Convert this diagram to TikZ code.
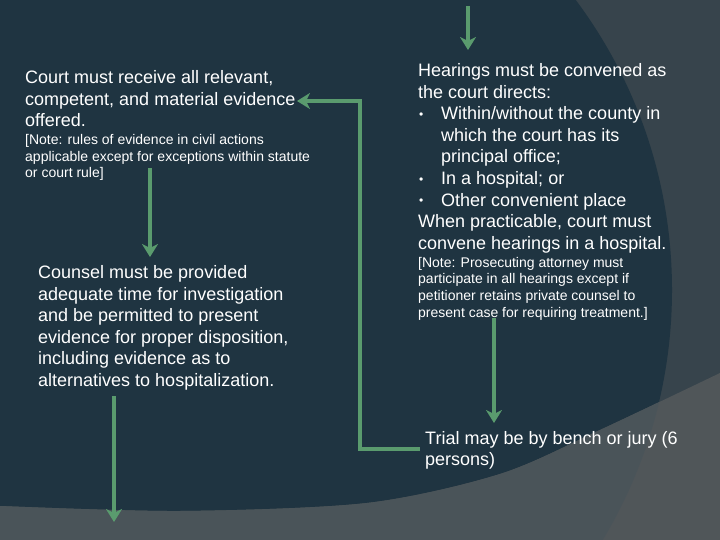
\documentclass[tikz,border=0pt]{standalone}
\usepackage{fontspec}
\setmainfont{Liberation Sans}
\usetikzlibrary{arrows.meta}
\definecolor{bgslate}{HTML}{37444C}
\definecolor{bgnavy}{HTML}{1F3441}
\definecolor{bggrayin}{HTML}{4A5459}
\definecolor{bggrayout}{HTML}{505659}
\definecolor{flowgreen}{HTML}{5A9B6E}
\newcommand{\hbul}{\makebox[23pt][l]{\hspace{1pt}\raisebox{1.5pt}{\fontsize{12}{12}\selectfont\textbullet}}}
\begin{document}
\begin{tikzpicture}[x=1pt,y=-1pt,
  bigtext/.style={font=\fontsize{18}{21.6}\selectfont, text=white, align=left, inner sep=0pt, anchor=base west},
  notetext/.style={font=\fontsize{14}{16.8}\selectfont, text=white, align=left, inner sep=0pt, anchor=base west},
  flow/.style={draw=flowgreen, line width=4pt, line join=miter, -{Stealth[length=13pt,width=16pt,inset=4pt]}}]
\useasboundingbox (0,0) rectangle (720,540);
\clip (0,0) rectangle (720,540);
% background
\fill[bgslate] (0,0) rectangle (720,540);
\fill[bgnavy] (187,290) circle[radius=485pt];
\fill[bggrayout] plot[smooth] coordinates {(0,506) (180,511) (367,503) (500,474) (600,430) (720,373)} -- (720,540) -- (0,540) -- cycle;
\begin{scope}
  \clip (187,290) circle[radius=485pt];
  \fill[bggrayin] plot[smooth] coordinates {(0,506) (180,511) (367,503) (500,474) (600,430) (720,373)} -- (720,540) -- (0,540) -- cycle;
\end{scope}
% texts (anchored at the baseline of the last line)
\node[bigtext] (court) at (25,126.7) {Court must receive all relevant,\\competent, and material evidence\\offered.};
\node[notetext] (courtnote) at (25,178) {[Note: rules of evidence in civil actions\\applicable except for exceptions within statute\\or court rule]};
\node[bigtext] (counsel) at (38,386.5) {Counsel must be provided\\adequate time for investigation\\and be permitted to present\\evidence for proper disposition,\\including evidence as to\\alternatives to hospitalization.};
\node[bigtext] (hear) at (418,249.3) {Hearings must be convened as\\the court directs:\\\hbul Within/without the county in\\\hspace*{23pt}which the court has its\\\hspace*{23pt}principal office;\\\hbul In a hospital; or\\\hbul Other convenient place\\When practicable, court must\\convene hearings in a hospital.};
\node[notetext] (hearnote) at (418,317.5) {[Note: Prosecuting attorney must\\participate in all hearings except if\\petitioner retains private counsel to\\present case for requiring treatment.]};
\node[bigtext] (trial) at (425,465.8) {Trial may be by bench or jury (6\\persons)};
% connector ends
\coordinate (topin) at (468,6);
\coordinate (heartop) at (468,50);
\coordinate (trialleft) at (420,449);
\coordinate (courtright) at (297,101);
\coordinate (notebot) at (150,168);
\coordinate (counseltop) at (150,257);
\coordinate (counselbot) at (114,396);
\coordinate (outbot) at (114,522);
\coordinate (hearbot) at (494,318);
\coordinate (trialtop) at (494,423);
% connectors
\draw[flow] (topin) -- (heartop);
\draw[flow] (trialleft) -- ++(-60,0) |- (courtright);
\draw[flow] (notebot) -- (counseltop);
\draw[flow] (counselbot) -- (outbot);
\draw[flow] (hearbot) -- (trialtop);
\end{tikzpicture}
\end{document}
